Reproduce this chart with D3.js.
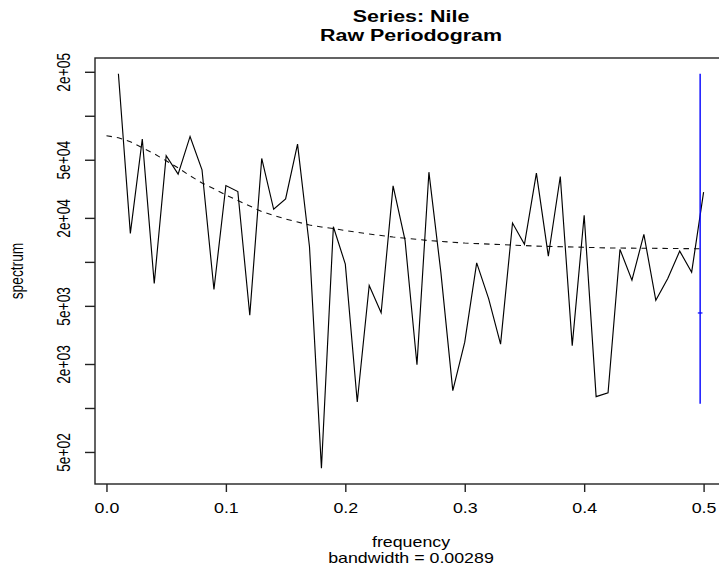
<!DOCTYPE html>
<html><head><meta charset="utf-8">
<script src="https://cdn.jsdelivr.net/npm/d3@7"></script>
<style>
body{margin:0;background:#fff}
svg{display:block}
text{font-family:"Liberation Sans",Arial,Helvetica,sans-serif;fill:#000}
</style>
</head><body>
<svg id="c" width="719" height="569"></svg>
<script>
// ---- data ----
const freq = [0.01,0.02,0.03,0.04,0.05,0.06,0.07,0.08,0.09,0.10,
              0.11,0.12,0.13,0.14,0.15,0.16,0.17,0.18,0.19,0.20,
              0.21,0.22,0.23,0.24,0.25,0.26,0.27,0.28,0.29,0.30,
              0.31,0.32,0.33,0.34,0.35,0.36,0.37,0.38,0.39,0.40,
              0.41,0.42,0.43,0.44,0.45,0.46,0.47,0.48,0.49,0.50];
const spec = [193800,15670,69300,7110,53200,39900,72200,42700,6470,33300,
              30300,4310,51000,22900,27000,64000,12700,387,17400,9650,
              1100,6890,4490,33100,14100,1975,41100,8500,1315,2820,
              9850,5610,2735,18450,13170,40500,10950,38400,2670,20840,
              1196,1268,12170,7490,15430,5460,7700,11850,8500,29980];
const arFreq = [0,0.01,0.02,0.03,0.04,0.05,0.06,0.07,0.08,0.09,0.10,
                0.11,0.12,0.13,0.14,0.15,0.16,0.17,0.18,0.19,0.20,
                0.22,0.24,0.27,0.30,0.36,0.42,0.50];
const arSpec = [73000,70700,66400,60400,54900,49200,44000,38800,34700,31600,28700,
                26300,24100,22100,20800,19650,18740,17870,17320,16910,16390,
                15510,14790,13990,13450,12820,12460,12290];
const xTicks = [0,0.1,0.2,0.3,0.4,0.5];
const xTickLabels = ["0.0","0.1","0.2","0.3","0.4","0.5"];
const yTicks = [500,1000,2000,5000,10000,20000,50000,100000,200000];
const yTickLabels = ["5e+02","","2e+03","5e+03","","2e+04","5e+04","","2e+05"];
const bandwidth = 0.00289;
const ciLower = 1071, ciCenter = 4470; // upper end = max(spec)
const titleLines = ["Series: Nile","Raw Periodogram"];
const xLabel = "frequency", xSub = "bandwidth = 0.00289", yLabel = "spectrum";

// ---- layout ----
const L=95, R=727, T=58, B=484, SX=1.29, FS=13.8;
const svg = d3.select("#c");

const xr = d3.extent(freq), xp = (xr[1]-xr[0])*0.04;
const x = d3.scaleLinear().domain([xr[0]-xp, xr[1]+xp]).range([L,R]);
const lo = Math.log10(d3.min([...spec, ciLower])), hi = Math.log10(d3.max(spec));
const yp = (hi-lo)*0.04;
const y = d3.scaleLog().domain([10**(lo-yp), 10**(hi+yp)]).range([B,T]);

// AR dashed curve
svg.append("path")
  .datum(arFreq.map((f,i)=>[f,arSpec[i]]))
  .attr("fill","none").attr("stroke","#111").attr("stroke-width",1.1)
  .attr("stroke-dasharray","5.5,5")
  .attr("d", d3.line().x(d=>x(d[0])).y(d=>y(d[1])));

// periodogram line
svg.append("path")
  .datum(freq.map((f,i)=>[f,spec[i]]))
  .attr("fill","none").attr("stroke","#000").attr("stroke-width",1.15)
  .attr("stroke-linejoin","miter")
  .attr("d", d3.line().x(d=>x(d[0])).y(d=>y(d[1])));

// confidence bar
const confX = d3.max(freq) - bandwidth;
svg.append("line").attr("x1",x(confX)).attr("x2",x(confX))
  .attr("y1",y(ciLower)).attr("y2",y(d3.max(spec)))
  .attr("stroke","#0000ff").attr("stroke-width",1.4);
svg.append("line").attr("x1",x(confX-bandwidth/2)).attr("x2",x(confX+bandwidth/2))
  .attr("y1",y(ciCenter)).attr("y2",y(ciCenter))
  .attr("stroke","#0000ff").attr("stroke-width",1.2).attr("stroke-linecap","square");

// box
svg.append("rect").attr("x",L).attr("y",T).attr("width",R-L).attr("height",B-T)
  .attr("fill","none").attr("stroke","#222").attr("stroke-width",1.4);

// x axis
const gx = svg.append("g").attr("transform",`translate(0,${B})`)
  .call(d3.axisBottom(x).tickValues(xTicks).tickFormat((d,i)=>xTickLabels[i]).tickSize(8).tickSizeOuter(0));
gx.select(".domain").remove();
gx.selectAll(".tick line").attr("stroke","#222").attr("stroke-width",1.4);
gx.selectAll(".tick text").attr("y",0).attr("dy",null)
  .attr("transform",`translate(0,29.3) scale(${SX},1)`)
  .attr("font-size",FS).attr("font-family",null).attr("fill","#000");

// y axis
const gy = svg.append("g").attr("transform",`translate(${L},0)`)
  .call(d3.axisLeft(y).tickValues(yTicks).tickFormat((d,i)=>yTickLabels[i]).tickSize(10).tickSizeOuter(0));
gy.select(".domain").remove();
gy.selectAll(".tick line").attr("stroke","#222").attr("stroke-width",1.4);
gy.selectAll(".tick text").attr("x",0).attr("y",0).attr("dy",null)
  .attr("text-anchor","middle")
  .attr("transform",`translate(-25,0) rotate(-90) scale(1,${SX})`)
  .attr("font-size",FS).attr("font-family",null).attr("fill","#000");

// titles
const cx = (L+R)/2;
svg.append("text").attr("text-anchor","middle").attr("font-weight","bold").attr("font-size",16.6)
  .attr("transform",`translate(${cx},21.7) scale(${SX},1)`).text(titleLines[0]);
svg.append("text").attr("text-anchor","middle").attr("font-weight","bold").attr("font-size",16.6)
  .attr("transform",`translate(${cx},41.3) scale(${SX},1)`).text(titleLines[1]);

// axis labels
svg.append("text").attr("text-anchor","middle").attr("font-size",FS)
  .attr("transform",`translate(${cx},546.5) scale(${SX},1)`).text(xLabel);
svg.append("text").attr("text-anchor","middle").attr("font-size",FS)
  .attr("transform",`translate(${cx},563) scale(${SX},1)`).text(xSub);
svg.append("text").attr("text-anchor","middle").attr("font-size",FS)
  .attr("transform",`translate(23,${(T+B)/2}) rotate(-90) scale(1,${SX})`).text(yLabel);
</script>
</body></html>
